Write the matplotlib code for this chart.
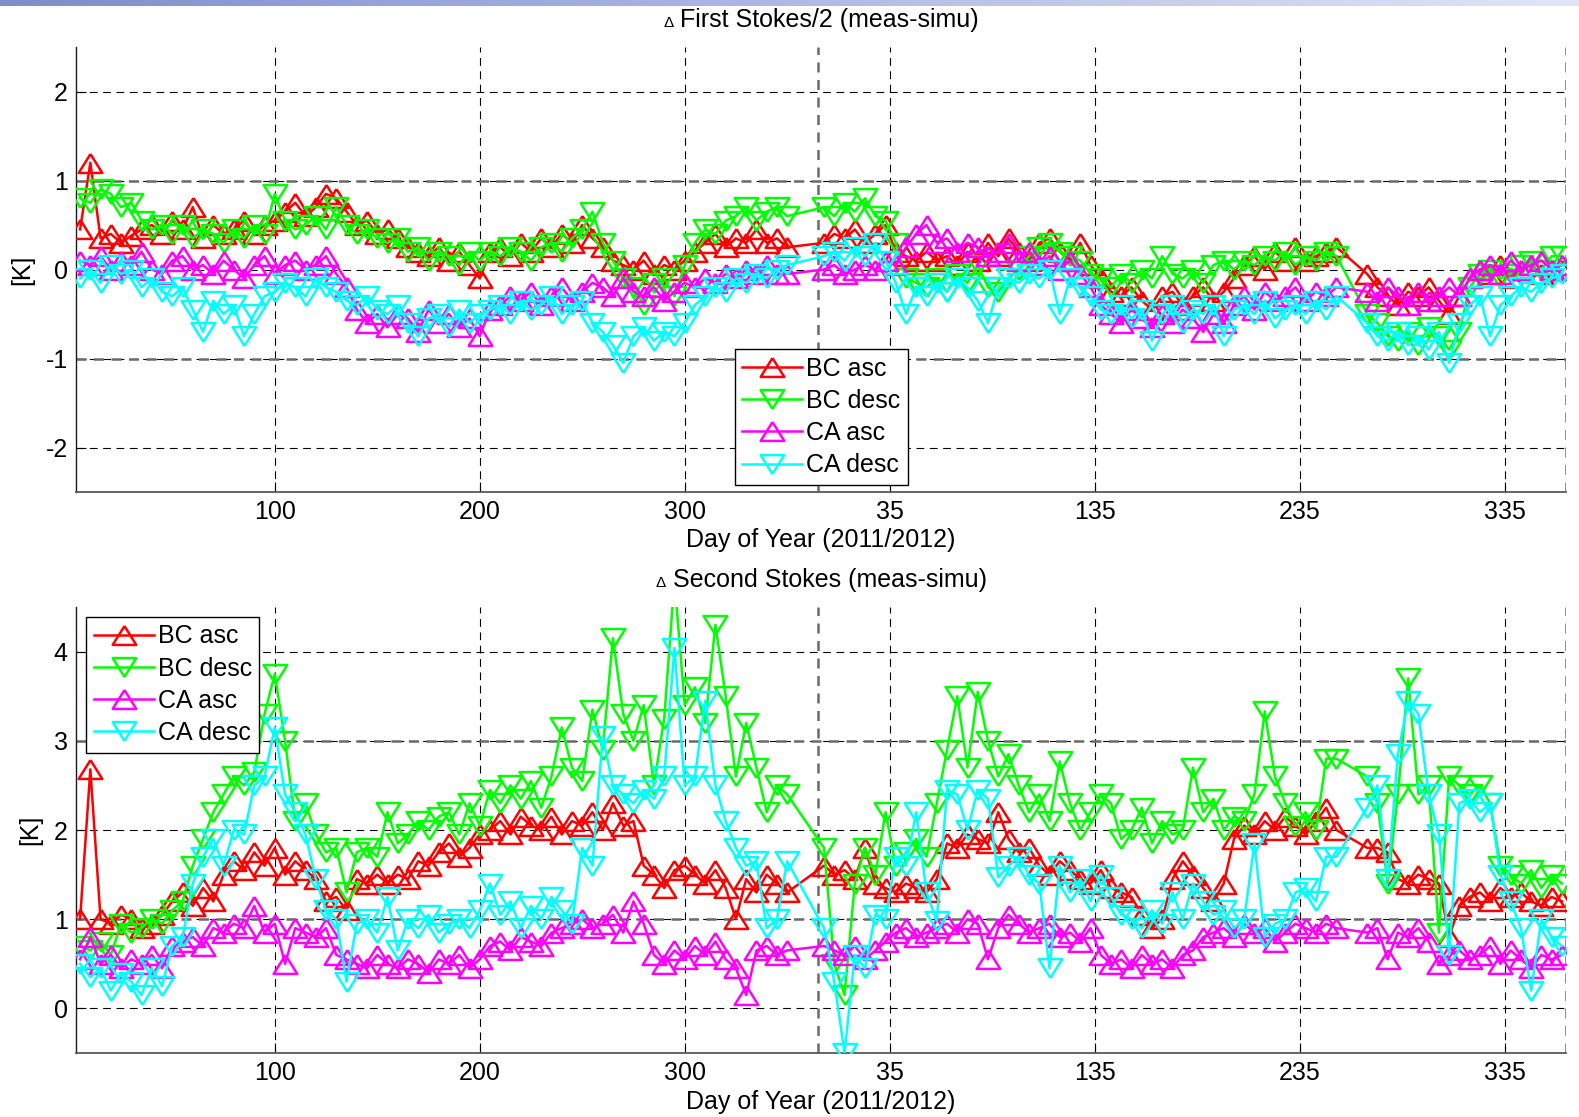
import numpy as np
import matplotlib
matplotlib.use("Agg")
import matplotlib.pyplot as plt
from matplotlib.offsetbox import TextArea, HPacker, AnchoredOffsetbox

plt.rcParams['font.family'] = ['Liberation Sans', 'DejaVu Sans']
plt.rcParams['axes.unicode_minus'] = False

# ---------------- data ----------------
days_2011 = np.arange(5, 351, 5)                                   # 70 days
days_2012 = np.concatenate([np.arange(368, 619, 5), np.arange(633, 729, 5)])  # 71 days (day count from 1 Jan 2011)
xtick_pos = [100, 200, 300, 400, 500, 600, 700]
xtick_lab = ['100', '200', '300', '35', '135', '235', '335']
series_labels = ['BC asc', 'BC desc', 'CA asc', 'CA desc']

# ---- First Stokes/2 ----
top_bc_asc_2011 = [
    0.45, 1.2, 0.35, 0.4, 0.3, 0.38, 0.45, 0.5, 0.4, 0.55,
    0.45, 0.7, 0.35, 0.5, 0.4, 0.45, 0.55, 0.4, 0.5, 0.55,
    0.65, 0.75, 0.6, 0.7, 0.85, 0.8, 0.65, 0.5, 0.55, 0.4,
    0.45, 0.35, 0.25, 0.2, 0.15, 0.25, 0.1, 0.2, 0.05, -0.1,
    0.2, 0.25, 0.15, 0.3, 0.2, 0.35, 0.25, 0.4, 0.3, 0.5,
    0.35, 0.25, 0.1, 0.05, 0.0, 0.1, -0.05, 0.05, 0.0, 0.1,
    0.2, 0.3, 0.4, 0.25, 0.35, 0.3, 0.45, 0.3, 0.35, 0.25]
top_bc_asc_2012 = [
    0.3, 0.4, 0.35, 0.45, 0.3, 0.4, 0.5, 0.2, 0.15, 0.1,
    0.2, 0.1, 0.15, 0.05, 0.2, 0.1, 0.3, 0.15, 0.35, 0.2,
    0.1, 0.3, 0.35, 0.2, 0.1, 0.3, 0.05, -0.1, -0.25, -0.3,
    -0.2, -0.35, -0.45, -0.3, -0.25, -0.4, -0.3, -0.2, -0.35, -0.25,
    -0.1, 0.05, 0.15, 0.0, 0.2, 0.1, 0.25, 0.1, 0.15, 0.2,
    0.25,
    -0.05, -0.2, -0.3, -0.4, -0.25, -0.3, -0.2, -0.35, -0.5, -0.3,
    -0.1, 0.0, -0.05, 0.05, -0.1, 0.0, 0.05, -0.05, 0.0, 0.0]

top_bc_desc_2011 = [
    0.8, 0.75, 0.9, 0.85, 0.7, 0.75, 0.55, 0.45, 0.5, 0.4,
    0.5, 0.35, 0.45, 0.4, 0.3, 0.45, 0.35, 0.5, 0.4, 0.85,
    0.55, 0.45, 0.5, 0.6, 0.45, 0.7, 0.5, 0.4, 0.45, 0.35,
    0.3, 0.35, 0.2, 0.25, 0.1, 0.2, 0.15, 0.05, 0.2, 0.1,
    0.2, 0.15, 0.25, 0.2, 0.1, 0.25, 0.3, 0.2, 0.35, 0.45,
    0.65, 0.3, 0.1, -0.1, -0.2, -0.4, -0.15, -0.1, -0.3, 0.05,
    0.3, 0.45, 0.4, 0.55, 0.6, 0.7, 0.55, 0.65, 0.7, 0.6]
top_bc_desc_2012 = [
    0.7, 0.6, 0.75, 0.65, 0.8, 0.6, 0.55, 0.3, -0.1, -0.15,
    -0.2, -0.1, -0.25, -0.05, -0.15, 0.05, -0.2, -0.25, -0.1, 0.0,
    0.15, 0.25, 0.3, 0.2, 0.15, 0.1, -0.05, -0.1, -0.2, -0.05,
    -0.15, 0.0, -0.1, 0.15, -0.05, -0.1, 0.0, -0.15, 0.05, 0.1,
    0.0, 0.1, 0.05, 0.15, 0.1, 0.2, 0.05, 0.15, 0.1, 0.2,
    0.15,
    -0.5, -0.6, -0.75, -0.8, -0.7, -0.85, -0.65, -0.75, -0.9, -0.7,
    -0.2, -0.05, 0.0, -0.1, -0.05, 0.05, 0.1, 0.0, 0.15, 0.15]

top_ca_asc_2011 = [
    0.1, 0.05, 0.15, 0.0, 0.1, 0.05, 0.2, 0.0, -0.05, 0.1,
    0.15, 0.0, 0.05, -0.05, 0.1, 0.0, -0.1, 0.05, 0.15, -0.05,
    0.05, 0.1, 0.0, 0.05, 0.15, -0.05, -0.2, -0.45, -0.6, -0.5,
    -0.65, -0.5, -0.55, -0.7, -0.45, -0.6, -0.5, -0.65, -0.55, -0.75,
    -0.45, -0.4, -0.3, -0.35, -0.25, -0.4, -0.3, -0.2, -0.35, -0.25,
    -0.15, -0.2, -0.3, -0.1, -0.25, -0.3, -0.2, -0.35, -0.25, -0.15,
    -0.2, -0.1, -0.15, -0.05, -0.1, 0.0, -0.05, 0.05, -0.05, -0.05]
top_ca_asc_2012 = [
    0.0, 0.05, -0.05, 0.0, 0.05, 0.0, 0.1, 0.05, 0.25, 0.4,
    0.5, 0.3, 0.35, 0.2, 0.3, 0.25, 0.15, 0.2, 0.3, 0.1,
    0.2, 0.05, 0.15, 0.0, 0.1, -0.05, -0.2, -0.4, -0.5, -0.6,
    -0.45, -0.55, -0.65, -0.5, -0.6, -0.45, -0.55, -0.7, -0.5, -0.6,
    -0.4, -0.3, -0.45, -0.25, -0.35, -0.3, -0.2, -0.35, -0.25, -0.3,
    -0.2,
    -0.25, -0.35, -0.2, -0.3, -0.4, -0.25, -0.35, -0.3, -0.2, -0.3,
    -0.1, 0.0, 0.05, -0.05, 0.1, 0.0, 0.05, 0.1, 0.0, 0.05]

top_ca_desc_2011 = [
    -0.1, 0.0, -0.15, 0.05, -0.05, 0.0, -0.2, -0.1, -0.25, -0.3,
    -0.2, -0.45, -0.7, -0.35, -0.5, -0.4, -0.75, -0.5, -0.3, -0.25,
    -0.15, -0.2, -0.3, -0.1, -0.2, -0.25, -0.35, -0.4, -0.3, -0.45,
    -0.5, -0.4, -0.6, -0.75, -0.55, -0.5, -0.65, -0.45, -0.6, -0.5,
    -0.45, -0.4, -0.5, -0.35, -0.45, -0.4, -0.3, -0.5, -0.4, -0.35,
    -0.6, -0.7, -0.85, -1.05, -0.75, -0.65, -0.8, -0.7, -0.75, -0.6,
    -0.4, -0.3, -0.2, -0.25, -0.1, -0.15, -0.05, -0.1, 0.0, 0.05]
top_ca_desc_2012 = [
    0.15, 0.2, 0.1, 0.25, 0.15, 0.3, 0.1, -0.15, -0.5, -0.2,
    -0.3, -0.15, -0.25, -0.1, -0.2, -0.35, -0.6, -0.2, -0.1, -0.15,
    -0.05, -0.1, 0.0, -0.5, -0.1, -0.2, -0.3, -0.45, -0.5, -0.4,
    -0.55, -0.45, -0.8, -0.5, -0.4, -0.6, -0.45, -0.5, -0.4, -0.75,
    -0.45, -0.4, -0.5, -0.35, -0.55, -0.45, -0.4, -0.5, -0.35, -0.45,
    -0.3,
    -0.6, -0.75, -0.8, -0.7, -0.85, -0.75, -0.9, -0.7, -1.05, -0.6,
    -0.4, -0.3, -0.75, -0.4, -0.3, -0.2, -0.25, -0.15, -0.1, -0.05]

# ---- Second Stokes ----
bot_bc_asc_2011 = [
    1.0, 2.68, 1.0, 0.95, 1.05, 1.0, 0.9, 0.95, 1.05, 1.2,
    1.3, 1.15, 1.35, 1.2, 1.5, 1.65, 1.55, 1.75, 1.6, 1.8,
    1.5, 1.65, 1.55, 1.45, 1.2, 1.25, 1.1, 1.45, 1.4, 1.5,
    1.4, 1.5, 1.45, 1.65, 1.6, 1.75, 1.85, 1.7, 1.8, 1.95,
    2.0, 2.1, 1.95, 2.15, 2.05, 2.0, 2.15, 1.95, 2.1, 2.05,
    2.2, 2.0, 2.3, 2.05, 2.1, 1.6, 1.5, 1.35, 1.55, 1.6,
    1.5, 1.4, 1.55, 1.35, 1.0, 1.45, 1.3, 1.5, 1.4, 1.3]
bot_bc_asc_2012 = [
    1.6, 1.5, 1.55, 1.45, 1.8, 1.4, 1.35, 1.3, 1.4, 1.35,
    1.3, 1.45, 1.85, 1.8, 1.95, 1.9, 1.85, 2.2, 1.9, 1.75,
    1.8, 1.6, 1.5, 1.65, 1.55, 1.45, 1.4, 1.55, 1.35, 1.3,
    1.25, 1.05, 0.9, 1.0, 1.45, 1.65, 1.5, 1.35, 1.2, 1.4,
    1.9, 2.05, 1.95, 2.1, 2.0, 2.15, 2.05, 1.95, 2.1, 2.25,
    2.0,
    1.8, 1.8, 1.75, 1.45, 1.4, 1.5, 1.45, 1.4, 0.8, 1.15,
    1.25, 1.3, 1.2, 1.35, 1.25, 1.3, 1.2, 1.15, 1.25, 1.2]

bot_bc_desc_2011 = [
    0.7, 0.65, 0.75, 0.6, 0.95, 0.85, 0.9, 1.0, 0.95, 1.1,
    1.2, 1.6, 1.9, 2.2, 2.4, 2.6, 2.5, 2.65, 3.3, 3.75,
    3.0, 2.1, 2.3, 1.95, 1.75, 1.8, 1.3, 1.75, 1.8, 1.7,
    2.2, 1.85, 1.95, 2.1, 2.0, 2.15, 2.2, 1.95, 2.3, 2.05,
    2.45, 2.3, 2.5, 2.35, 2.55, 2.25, 2.6, 3.15, 2.7, 2.55,
    3.35, 2.9, 4.15, 3.3, 3.0, 3.4, 2.5, 3.25, 4.8, 3.4,
    3.6, 3.2, 4.3, 3.5, 2.6, 3.2, 2.7, 2.2, 2.5, 2.4]
bot_bc_desc_2012 = [
    1.8, 0.5, 0.15, 1.4, 1.8, 1.5, 2.2, 1.6, 1.75, 1.9,
    1.7, 2.3, 2.9, 3.5, 2.7, 3.55, 3.0, 2.6, 2.85, 2.5,
    2.2, 2.4, 2.1, 2.77, 2.3, 2.0, 2.2, 2.4, 2.3, 1.9,
    2.0, 2.25, 1.85, 2.1, 1.95, 2.0, 2.7, 2.2, 2.35, 2.0,
    2.15, 2.1, 2.4, 3.33, 2.6, 2.3, 2.05, 2.2, 2.0, 2.8,
    2.8,
    2.6, 2.3, 1.4, 2.4, 3.7, 2.4, 2.5, 0.85, 2.6, 2.5,
    2.4, 2.5, 2.3, 1.6, 1.5, 1.4, 1.55, 1.35, 1.5, 1.4]

bot_ca_asc_2011 = [
    0.55, 0.8, 0.5, 0.6, 0.45, 0.55, 0.5, 0.6, 0.45, 0.7,
    0.75, 0.8, 0.7, 0.9, 0.85, 0.95, 0.9, 1.15, 0.85, 0.95,
    0.5, 0.9, 0.85, 0.8, 0.9, 0.6, 0.55, 0.5, 0.45, 0.6,
    0.5, 0.45, 0.55, 0.5, 0.4, 0.55, 0.5, 0.6, 0.45, 0.55,
    0.7, 0.75, 0.65, 0.8, 0.75, 0.7, 0.85, 0.9, 0.95, 1.0,
    0.9, 0.95, 1.05, 0.85, 1.2, 0.95, 0.6, 0.5, 0.65, 0.55,
    0.7, 0.6, 0.75, 0.55, 0.45, 0.15, 0.65, 0.7, 0.6, 0.65]
bot_ca_asc_2012 = [
    0.7, 0.65, 0.6, 0.7, 0.55, 0.65, 0.75, 0.85, 0.9, 0.8,
    0.85, 0.9, 0.95, 0.85, 1.0, 0.95, 0.55, 0.9, 1.05, 0.95,
    0.85, 0.9, 0.95, 0.8, 0.85, 0.75, 0.9, 0.6, 0.5, 0.55,
    0.45, 0.6, 0.5, 0.55, 0.45, 0.6, 0.65, 0.8, 0.85, 0.9,
    0.8, 0.95, 0.85, 0.9, 0.75, 0.85, 0.95, 0.9, 0.85, 0.95,
    0.9,
    0.85, 0.9, 0.55, 0.85, 0.8, 0.9, 0.75, 0.5, 0.6, 0.65,
    0.55, 0.6, 0.7, 0.5, 0.65, 0.55, 0.45, 0.6, 0.55, 0.6]

bot_ca_desc_2011 = [
    0.5, 0.35, 0.45, 0.2, 0.4, 0.3, 0.15, 0.45, 0.25, 0.7,
    0.8, 1.4, 1.7, 1.9, 1.6, 2.0, 1.95, 2.5, 2.6, 3.15,
    2.4, 2.2, 1.95, 1.45, 1.1, 1.0, 0.3, 0.95, 1.0, 0.85,
    1.25, 0.65, 1.0, 0.9, 1.05, 0.85, 0.95, 1.0, 0.9, 1.1,
    1.4, 1.05, 1.2, 0.9, 1.15, 1.0, 1.25, 1.1, 0.95, 1.8,
    1.6, 3.05, 2.5, 2.4, 2.3, 2.45, 2.35, 2.6, 4.04, 2.5,
    2.6, 3.45, 2.5, 2.1, 1.8, 1.6, 1.65, 0.9, 1.0, 1.65]
bot_ca_desc_2012 = [
    0.9, 0.3, -0.5, 0.6, 0.45, 1.05, 1.0, 1.7, 1.6, 2.2,
    1.3, 0.98, 2.45, 2.4, 2.0, 2.45, 2.35, 1.47, 1.6, 1.7,
    1.5, 1.4, 0.45, 1.6, 1.3, 1.45, 1.2, 1.5, 1.25, 1.05,
    1.0, 0.9, 1.1, 0.95, 1.3, 1.0, 1.4, 1.2, 1.05, 1.1,
    0.9, 1.0, 1.85, 0.8, 0.95, 1.0, 1.3, 1.35, 1.2, 1.7,
    1.7,
    2.25, 2.5, 1.45, 2.85, 3.45, 3.3, 2.4, 1.95, 0.6, 2.3,
    2.35, 2.2, 2.3, 1.5, 1.2, 0.9, 0.2, 1.0, 0.8, 0.7]

# ---------------- styling ----------------
colors = ['#ff0000', '#00ff00', '#ff00ff', '#00ffff']
tri_up = [(0, 0.8), (-1, -0.8), (1, -0.8), (0, 0.8)]
tri_dn = [(0, -0.8), (-1, 0.8), (1, 0.8), (0, -0.8)]
markers = [tri_up, tri_dn, tri_up, tri_dn]
FS = 18

fig = plt.figure(figsize=(15.79, 11.17), dpi=100)

# decorative gradient band at the very top
gax = fig.add_axes([0, 1 - 6 / 1117, 1, 6 / 1117])
grad = np.linspace(0, 1, 256)
c0 = np.array([0.50, 0.55, 0.80])
c1 = np.array([0.88, 0.90, 0.97])
img = (c0[None, :] * (1 - grad[:, None]) + c1[None, :] * grad[:, None])[None, :, :]
gax.imshow(img, aspect='auto', extent=[0, 1, 0, 1])
gax.set_axis_off()

W = 1579.0
H = 1117.0
ax1 = fig.add_axes([76 / W, 1 - 492 / H, (1566 - 76) / W, 445 / H])
ax2 = fig.add_axes([76 / W, 1 - 1053 / H, (1566 - 76) / W, 446 / H])

days_all = np.concatenate([days_2011, days_2012])


def make_title(ax, text):
    d = TextArea('\u0394', textprops=dict(size=11, color='k'))
    t = TextArea(' ' + text, textprops=dict(size=FS, color='k'))
    box = HPacker(children=[d, t], align='baseline', pad=0, sep=0)
    ab = AnchoredOffsetbox(loc='lower center', child=box, frameon=False,
                           bbox_to_anchor=(0.5, 1.0), bbox_transform=ax.transAxes,
                           borderpad=0.65)
    ax.add_artist(ab)


def setup(ax, data, ylim, yticks, gray_y, title, legend_kw):
    for vals, c, m, lab in zip(data, colors, markers, series_labels):
        ax.plot(days_all, vals, color=c, lw=1.8, marker=m, ms=17,
                mfc='none', mec=c, mew=1.8, label=lab, zorder=3)
    ax.set_xlim(3, 730)
    ax.set_ylim(*ylim)
    ax.set_yticks(yticks)
    ax.set_xticks(xtick_pos)
    ax.set_xticklabels(xtick_lab)
    ax.grid(True, color='k', ls=(0, (7, 5)), lw=0.8)
    ax.set_axisbelow(True)
    for y in gray_y:
        ax.axhline(y, color='0.42', ls=(0, (4, 3)), lw=1.8, zorder=2)
    for x in (365, 730):
        ax.axvline(x, color='0.42', ls=(0, (4, 3)), lw=1.8, zorder=2)
    for s in ('top', 'right'):
        ax.spines[s].set_visible(False)
    ax.spines['left'].set_color('0.1')
    ax.spines['bottom'].set_color('0.35')
    ax.spines['left'].set_linewidth(1.0)
    ax.spines['bottom'].set_linewidth(1.3)
    ax.tick_params(direction='in', length=7, width=0.8, labelsize=FS, pad=6,
                   top=False, right=False)
    ax.tick_params(axis='x', pad=6)
    ax.set_xlabel('Day of Year (2011/2012)', fontsize=FS, labelpad=3)
    ax.set_ylabel('[K]', fontsize=FS, labelpad=8)
    make_title(ax, title)
    leg = ax.legend(fontsize=FS, frameon=True, fancybox=False, framealpha=1,
                    edgecolor='k', handlelength=2.4, handletextpad=0.15,
                    labelspacing=0.33, borderpad=0.3, borderaxespad=0, **legend_kw)
    leg.get_frame().set_linewidth(1.0)
    leg.set_zorder(10)


setup(ax1,
      [top_bc_asc_2011 + top_bc_asc_2012, top_bc_desc_2011 + top_bc_desc_2012,
       top_ca_asc_2011 + top_ca_asc_2012, top_ca_desc_2011 + top_ca_desc_2012],
      (-2.5, 2.5), [-2, -1, 0, 1, 2], (1, -1), 'First Stokes/2 (meas-simu)',
      dict(loc='lower left', bbox_to_anchor=(0.442, 0.016)))

setup(ax2,
      [bot_bc_asc_2011 + bot_bc_asc_2012, bot_bc_desc_2011 + bot_bc_desc_2012,
       bot_ca_asc_2011 + bot_ca_asc_2012, bot_ca_desc_2011 + bot_ca_desc_2012],
      (-0.5, 4.5), [0, 1, 2, 3, 4], (1, 3), 'Second Stokes (meas-simu)',
      dict(loc='upper left', bbox_to_anchor=(0.007, 0.978)))

fig.savefig('out.png', dpi=100)
